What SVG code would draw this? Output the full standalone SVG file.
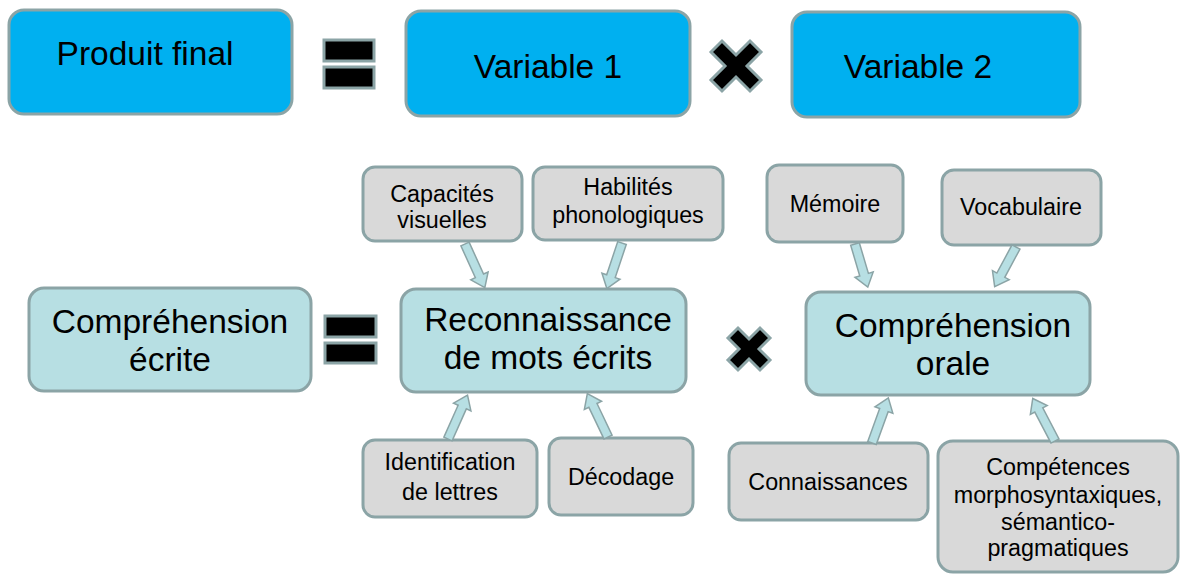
<svg xmlns="http://www.w3.org/2000/svg" width="1180" height="574" viewBox="0 0 1180 574">
<style>
.s{stroke:#8ba4a6;stroke-width:3}
.blue{fill:#00b0f0}
.teal{fill:#b7dfe3}
.gray{fill:#d9d9d9}
.op{fill:#000;stroke:#8ba4a6;stroke-width:3}
.arr{fill:#b7dfe3;stroke:#8ba4a6;stroke-width:1.5}
text{font-family:"Liberation Sans",Arial,sans-serif;fill:#000;text-anchor:middle}
.big{font-size:33.5px}
.sm{font-size:23.3px}
</style>
<defs>
<path id="a48" d="M0,-4.5 L35,-4.5 L35,-9.5 L48,0 L35,9.5 L35,4.5 L0,4.5 Z"/>
<path id="a45" d="M0,-4.5 L32,-4.5 L32,-9.5 L45,0 L32,9.5 L32,4.5 L0,4.5 Z"/>
</defs>
<rect width="1180" height="574" fill="#fff"/>
<g id="produit-final"><rect class="s blue" x="9" y="10" width="283" height="104" rx="15"/><text class="big" x="145" y="65">Produit final</text></g>
<g id="eq1"><rect class="op" x="324" y="40" width="50" height="21"/><rect class="op" x="324" y="67" width="50" height="21"/></g>
<g id="variable-1"><rect class="s blue" x="406" y="11" width="284" height="105" rx="15"/><text class="big" x="548" y="78">Variable 1</text></g>
<g id="times1"><path class="op" transform="translate(736,66)" d="M-25,-14 L-14,-25 L0,-11 L14,-25 L25,-14 L11,0 L25,14 L14,25 L0,11 L-14,25 L-25,14 L-11,0 Z"/></g>
<g id="variable-2"><rect class="s blue" x="792" y="12" width="288" height="105" rx="15"/><text class="big" x="918" y="78">Variable 2</text></g>

<g id="comprehension-ecrite"><rect class="s teal" x="29" y="288" width="282" height="103" rx="15"/><text class="big" x="170" y="333">Compréhension</text><text class="big" x="170" y="371">écrite</text></g>
<g id="eq2"><rect class="op" x="325" y="316" width="51" height="21"/><rect class="op" x="325" y="343" width="51" height="20"/></g>
<g id="reconnaissance"><rect class="s teal" x="401" y="289" width="285" height="103" rx="15"/><text class="big" x="548" y="331">Reconnaissance</text><text class="big" x="548" y="369">de mots écrits</text></g>
<g id="times2"><path class="op" transform="translate(749,349)" d="M-21,-11 L-11,-21 L0,-10 L11,-21 L21,-11 L10,0 L21,11 L11,21 L0,10 L-11,21 L-21,11 L-10,0 Z"/></g>
<g id="comprehension-orale"><rect class="s teal" x="806" y="292" width="284" height="103" rx="15"/><text class="big" x="953" y="337">Compréhension</text><text class="big" x="953" y="375">orale</text></g>

<g id="capacites"><rect class="s gray" x="363" y="167" width="159" height="74" rx="12"/><text class="sm" x="442" y="202">Capacités</text><text class="sm" x="442" y="228">visuelles</text></g>
<g id="habilites"><rect class="s gray" x="533" y="167" width="190" height="73" rx="12"/><text class="sm" x="628" y="195">Habilités</text><text class="sm" x="628" y="223">phonologiques</text></g>
<g id="memoire"><rect class="s gray" x="767" y="165" width="136" height="77" rx="12"/><text class="sm" x="835" y="212">Mémoire</text></g>
<g id="vocabulaire"><rect class="s gray" x="942" y="170" width="159" height="75" rx="12"/><text class="sm" x="1021" y="215">Vocabulaire</text></g>
<g id="identification"><rect class="s gray" x="363" y="440" width="174" height="77" rx="12"/><text class="sm" x="450" y="470">Identification</text><text class="sm" x="450" y="500">de lettres</text></g>
<g id="decodage"><rect class="s gray" x="549" y="438" width="144" height="77" rx="12"/><text class="sm" x="621" y="485">Décodage</text></g>
<g id="connaissances"><rect class="s gray" x="729" y="443" width="199" height="77" rx="12"/><text class="sm" x="828" y="490">Connaissances</text></g>
<g id="competences"><rect class="s gray" x="938" y="441" width="240" height="131" rx="15"/><text class="sm" x="1058" y="475">Compétences</text><text class="sm" x="1058" y="503">morphosyntaxiques,</text><text class="sm" x="1058" y="530">sémantico-</text><text class="sm" x="1058" y="556">pragmatiques</text></g>

<g id="connectors">
<use href="#a48" class="arr" transform="translate(465,244) rotate(65.6)"/>
<use href="#a48" class="arr" transform="translate(622,243) rotate(108.4)"/>
<use href="#a45" class="arr" transform="translate(855,244) rotate(73.5)"/>
<use href="#a45" class="arr" transform="translate(1016,247) rotate(118.3)"/>
<use href="#a48" class="arr" transform="translate(448,439) rotate(-66)"/>
<use href="#a48" class="arr" transform="translate(608,437) rotate(-115.5)"/>
<use href="#a48" class="arr" transform="translate(872,443) rotate(-70.1)"/>
<use href="#a48" class="arr" transform="translate(1055,441) rotate(-117.6)"/>
</g>
</svg>
